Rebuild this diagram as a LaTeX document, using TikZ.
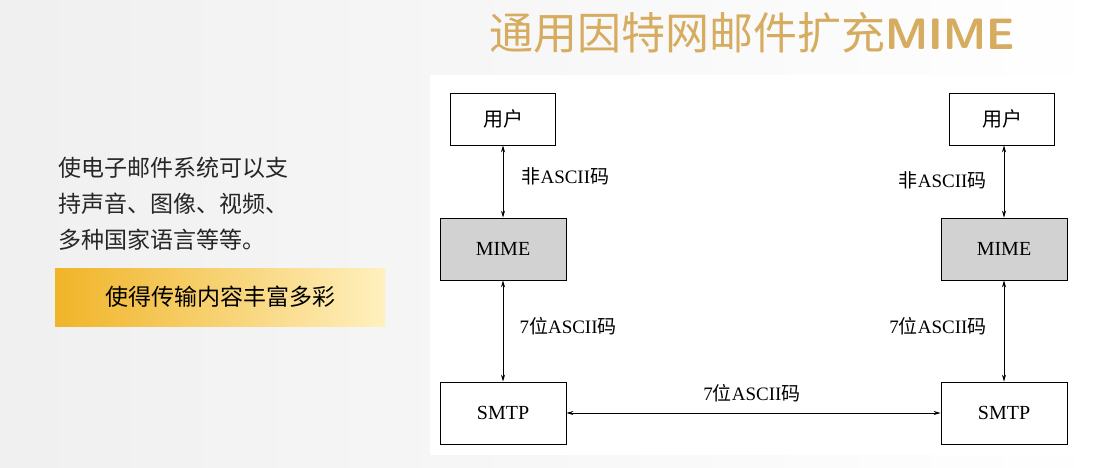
\documentclass[tikz,border=0pt]{standalone}
\usepackage{fontspec}
\setmainfont{Liberation Serif}
\newfontfamily\cjk{Noto Sans CJK SC}
\usetikzlibrary{arrows.meta}
\definecolor{gold}{RGB}{214,172,96}
\definecolor{goldA}{RGB}{240,180,40}
\definecolor{goldB}{RGB}{255,240,190}
\begin{document}
\begin{tikzpicture}[x=1pt,y=-1pt,
  box/.style={draw,line width=0.8pt,minimum width=105pt,minimum height=52pt,font=\fontsize{20}{22}\selectfont},
  mbox/.style={box,minimum width=126pt,minimum height=62pt},
  arr/.style={{Stealth[length=7pt,width=4pt]}-{Stealth[length=7pt,width=4pt]},line width=0.7pt},
  lab/.style={font=\fontsize{19}{20}\selectfont}]
\useasboundingbox (0,0) rectangle (1111,468);
\shade[left color=gray!12,right color=white] (0,0) rectangle (1111,468);
\fill[white] (430,75) rectangle (1078,455);
\node[font=\cjk\fontsize{44}{48}\selectfont,text=gold] (title) at (752,33) {通用因特网邮件扩充\textbf{\sffamily MIME}};
\node[box] (u1) at (503,119) {\cjk 用户};
\node[mbox,fill=gray!35] (m1) at (503,249) {MIME};
\node[mbox] (s1) at (503,413) {SMTP};
\node[box] (u2) at (1002,119) {\cjk 用户};
\node[mbox,fill=gray!35] (m2) at (1004,249) {MIME};
\node[mbox] (s2) at (1004,413) {SMTP};
\draw[arr] (u1) -- (m1); \draw[arr] (m1) -- (s1);
\draw[arr] (u2.south -| 1004,0) -- (m2); \draw[arr] (m2) -- (s2);
\draw[arr] (s1) -- (s2);
\node[lab,anchor=west] at (518,176) {{\cjk 非}ASCII{\cjk 码}};
\node[lab,anchor=east] at (990,180) {{\cjk 非}ASCII{\cjk 码}};
\node[lab,anchor=west] at (516,326) {7{\cjk 位}ASCII{\cjk 码}};
\node[lab,anchor=east] at (990,326) {7{\cjk 位}ASCII{\cjk 码}};
\node[lab] at (752,393) {7{\cjk 位}ASCII{\cjk 码}};
\node[anchor=west,align=left,font=\cjk\fontsize{23}{36}\selectfont,text=black!85] (t) at (55,204) {使电子邮件系统可以支\\持声音、图像、视频、\\多种国家语言等等。};
\shade[left color=goldA,right color=goldB] (55,268) rectangle (385,326);
\node[font=\cjk\fontsize{23}{26}\selectfont] (g) at (220,297) {使得传输内容丰富多彩};
\end{tikzpicture}
\end{document}
